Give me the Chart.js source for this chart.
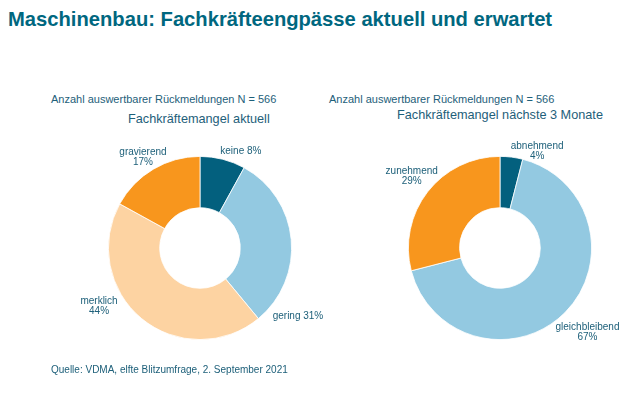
<!DOCTYPE html>
<html>
<head>
<meta charset="utf-8">
<script src="https://cdn.jsdelivr.net/npm/chart.js@4.4.1/dist/chart.umd.min.js"></script>
<style>
  body { margin: 0; background: #fff; font-family: "Liberation Sans", Arial, sans-serif; }
  #page { position: relative; width: 626px; height: 402px; overflow: hidden; }
  .txt { position: absolute; white-space: nowrap; color: #1e607a; }
  #title { left: 8px; top: 8px; font-weight: bold; font-size: 20.2px; color: #00677f; }
  .n { font-size: 11px; }
  .sub { font-size: 12.7px; }
  .box { position: absolute; }
</style>
</head>
<body>
<div id="page">
  <div id="title" class="txt">Maschinenbau: Fachkräfteengpässe aktuell und erwartet</div>

  <div class="txt n" style="left:51px; top:93px;">Anzahl auswertbarer Rückmeldungen N = 566</div>
  <div class="txt sub" style="left:128px; top:112px;">Fachkräftemangel aktuell</div>
  <div class="txt n" style="left:329px; top:93px;">Anzahl auswertbarer Rückmeldungen N = 566</div>
  <div class="txt sub" style="left:397px; top:108px;">Fachkräftemangel nächste 3 Monate</div>

  <div class="box" style="left:30px; top:130px; width:340px; height:236px;"><canvas id="chartAktuell"></canvas></div>
  <div class="box" style="left:330px; top:130px; width:296px; height:236px;"><canvas id="chartErwartet"></canvas></div>

  <div class="txt" style="left:51px; top:364px; font-size:10px;">Quelle: VDMA, elfte Blitzumfrage, 2. September 2021</div>
</div>

<script>
// Daten: Fachkräftemangel aktuell
const aktuellLabels = ['keine', 'gering', 'merklich', 'gravierend'];
const aktuellWerte = [8, 31, 44, 17];
const aktuellFarben = ['#03607e', '#93c9e1', '#fdd3a2', '#f8961d'];

// Daten: Fachkräftemangel nächste 3 Monate
const erwartetLabels = ['abnehmend', 'gleichbleibend', 'zunehmend'];
const erwartetWerte = [4, 67, 29];
const erwartetFarben = ['#03607e', '#93c9e1', '#f8961d'];

// Beschriftungen: Text, Winkel (Grad im Uhrzeigersinn ab oben), Abstand ausserhalb des Rings
const aktuellText = ['keine 8%', 'gering 31%', 'merklich\n44%', 'gravierend\n17%'];
const aktuellWinkel = [23, 125, 240, 328];
const aktuellAbstand = [13, 28, 25, 16];

const erwartetText = ['abnehmend\n4%', 'gleichbleibend\n67%', 'zunehmend\n29%'];
const erwartetWinkel = [21, 134, 309];
const erwartetAbstand = [12, 30, 22];

const ringLabels = {
    id: 'ringLabels',
    afterDatasetsDraw(chart, args, opts) {
        const arc = chart.getDatasetMeta(0).data[0];
        if (!arc) return;
        const { x, y, outerRadius } = arc.getProps(['x', 'y', 'outerRadius'], true);
        const ctx = chart.ctx;
        ctx.save();
        ctx.font = '10px "Liberation Sans", Arial, sans-serif';
        ctx.fillStyle = '#1e607a';
        ctx.textAlign = 'center';
        ctx.textBaseline = 'middle';
        opts.text.forEach((t, i) => {
            const a = opts.winkel[i] * Math.PI / 180;
            const r = outerRadius + opts.abstand[i];
            const cx = x + r * Math.sin(a);
            const cy = y - r * Math.cos(a);
            const lines = t.split('\n');
            const lh = 10;
            lines.forEach((l, j) => {
                ctx.fillText(l, cx, cy + (j - (lines.length - 1) / 2) * lh);
            });
        });
        ctx.restore();
    }
};

function makeDonut(id, labels, werte, farben, text, winkel, abstand, padding) {
    new Chart(document.getElementById(id), {
        type: 'doughnut',
        data: { labels: labels, datasets: [{ data: werte, backgroundColor: farben, borderColor: '#fff', borderWidth: 0.8, hoverOffset: 0, offset: 0 }] },
        options: {
            responsive: true, maintainAspectRatio: false, animation: false,
            cutout: '44%',
            layout: { padding: padding },
            plugins: {
                legend: { display: false },
                tooltip: { enabled: false },
                ringLabels: { text: text, winkel: winkel, abstand: abstand }
            }
        },
        plugins: [ringLabels]
    });
}

makeDonut('chartAktuell', aktuellLabels, aktuellWerte, aktuellFarben, aktuellText, aktuellWinkel, aktuellAbstand,
    { left: 78, right: 78, top: 26, bottom: 26 });
makeDonut('chartErwartet', erwartetLabels, erwartetWerte, erwartetFarben, erwartetText, erwartetWinkel, erwartetAbstand,
    { left: 78, right: 34, top: 26, bottom: 26 });
</script>
</body>
</html>
